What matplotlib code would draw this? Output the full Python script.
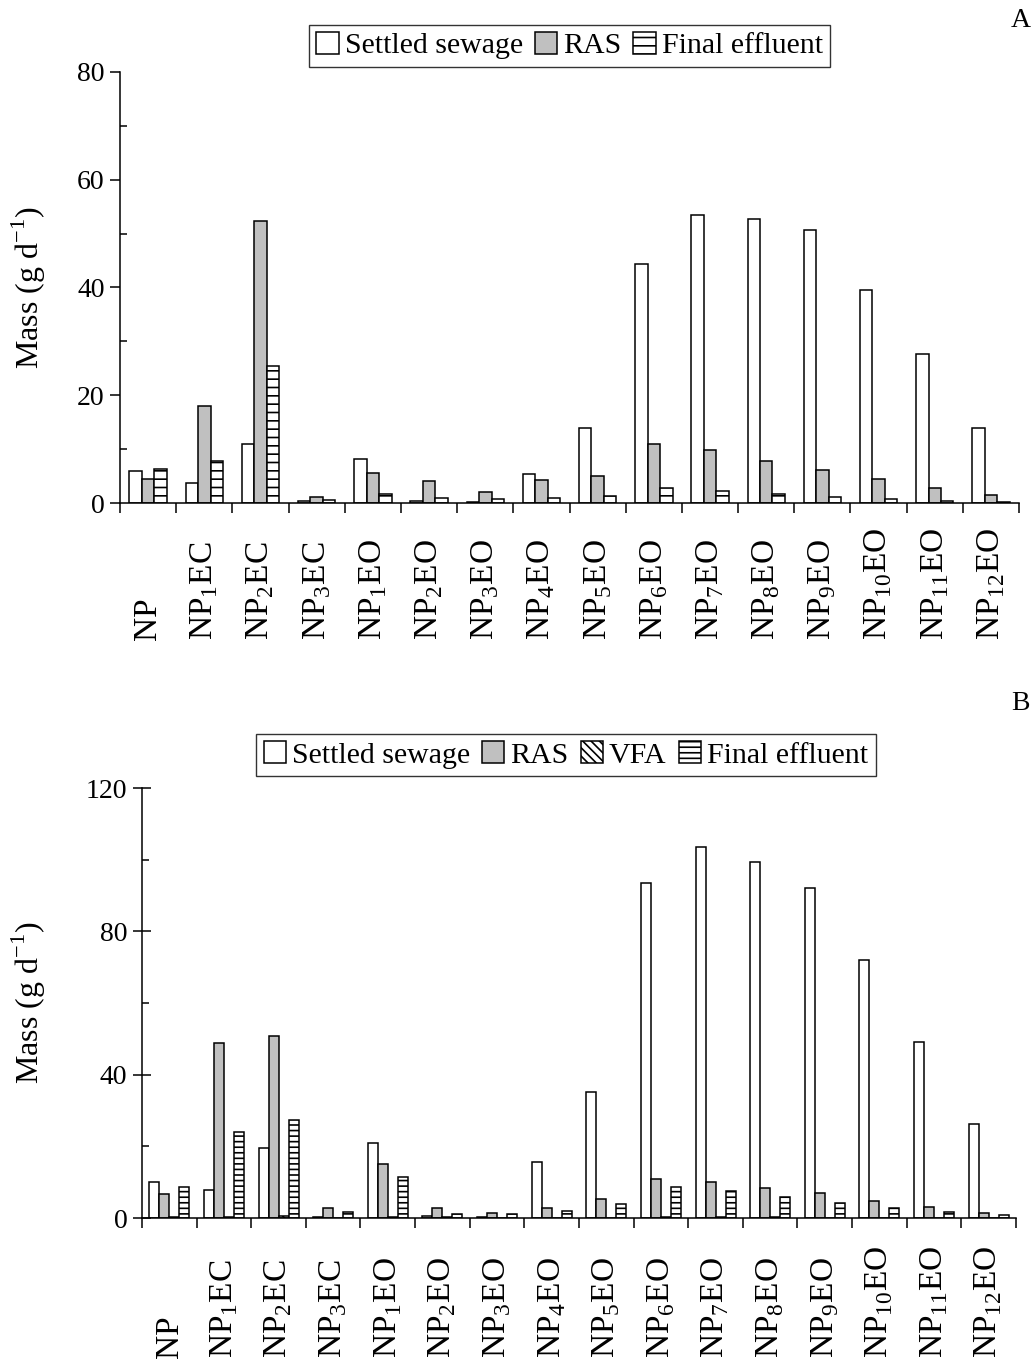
import matplotlib
matplotlib.use('Agg')
import matplotlib.pyplot as plt
import numpy as np

plt.rcParams['font.family'] = ['Liberation Serif', 'DejaVu Serif']
plt.rcParams['mathtext.fontset'] = 'custom'
plt.rcParams['mathtext.rm'] = 'Liberation Serif'
plt.rcParams['font.size'] = 20
plt.rcParams['hatch.linewidth'] = 1.2

labels = ['NP', 'NP$_\\mathregular{1}$EC', 'NP$_\\mathregular{2}$EC', 'NP$_\\mathregular{3}$EC',
          'NP$_\\mathregular{1}$EO', 'NP$_\\mathregular{2}$EO', 'NP$_\\mathregular{3}$EO',
          'NP$_\\mathregular{4}$EO', 'NP$_\\mathregular{5}$EO', 'NP$_\\mathregular{6}$EO',
          'NP$_\\mathregular{7}$EO', 'NP$_\\mathregular{8}$EO', 'NP$_\\mathregular{9}$EO',
          'NP$_\\mathregular{10}$EO', 'NP$_\\mathregular{11}$EO', 'NP$_\\mathregular{12}$EO']

# panel A
a_settled = [5.9, 3.8, 10.9, 0.4, 8.1, 0.4, 0.2, 5.3, 14.0, 44.4, 53.5, 52.8, 50.6, 39.6, 27.6, 14.0]
a_ras = [4.5, 18.0, 52.3, 1.1, 5.6, 4.0, 2.1, 4.3, 5.0, 10.9, 9.8, 7.8, 6.1, 4.4, 2.7, 1.4]
a_final = [6.4, 7.8, 25.4, 0.6, 1.6, 0.9, 0.75, 0.9, 1.3, 2.85, 2.3, 1.6, 1.1, 0.8, 0.45, 0.25]

# panel B
b_settled = [10.1, 7.8, 19.6, 0.3, 20.9, 0.6, 0.4, 15.6, 35.2, 93.6, 103.6, 99.4, 92.2, 72.1, 49.2, 26.3]
b_ras = [6.7, 48.9, 50.8, 2.8, 15.0, 2.8, 1.5, 2.7, 5.3, 10.9, 10.0, 8.4, 6.9, 4.7, 3.0, 1.4]
b_vfa = [0.3, 0.3, 0.5, 0.0, 0.3, 0.4, 0.0, 0.0, 0.0, 0.3, 0.3, 0.3, 0.0, 0.0, 0.0, 0.0]
b_final = [8.6, 24.1, 27.4, 1.6, 11.5, 1.2, 1.1, 2.1, 4.0, 8.7, 7.6, 5.9, 4.2, 2.7, 1.6, 0.8]

gray = '#c0c0c0'
x = np.arange(len(labels))

fig = plt.figure(figsize=(10.35, 13.68), dpi=100)
axA = fig.add_axes([0.116, 0.6323, 0.8686, 0.3151])
axB = fig.add_axes([0.1372, 0.1096, 0.8444, 0.3143])


def style_axes(ax, ymax, major, minor, tickdir, label_drop):
    ax.set_xlim(-0.5, len(labels) - 0.5)
    ax.set_ylim(0, ymax)
    ax.spines['top'].set_visible(False)
    ax.spines['right'].set_visible(False)
    ax.spines['left'].set_linewidth(1.1)
    ax.spines['bottom'].set_linewidth(1.1)
    ax.set_yticks(np.arange(0, ymax + 1, major))
    ax.set_yticks(np.arange(minor, ymax, major), minor=True)
    ax.tick_params(axis='y', which='major', direction=tickdir,
                   length=13 if tickdir == 'inout' else 7, width=1.1, pad=4)
    ax.tick_params(axis='y', which='minor', direction='in', length=5, width=1.1)
    ax.set_xticks(np.arange(-0.5, len(labels), 1.0))
    ax.set_xticklabels([])
    ax.tick_params(axis='x', which='major', direction='out', length=7, width=1.1)
    for i, lab in enumerate(labels):
        ax.text(x[i], -label_drop, lab, rotation=90, ha='center', va='bottom',
                fontsize=24, transform=ax.get_xaxis_transform())
    ax.set_ylabel('Mass (g d$^\\mathregular{-1}$)', fontsize=23)


# A
w = 0.222
axA.bar(x - w, a_settled, w, color='white', edgecolor='black', linewidth=1.1, label='Settled sewage')
axA.bar(x, a_ras, w, color=gray, edgecolor='black', linewidth=1.1, label='RAS')
axA.bar(x + w, a_final, w, color='white', edgecolor='black', linewidth=1.1, hatch='--',
        label='Final effluent')
style_axes(axA, 80, 20, 10, 'out', 0.318)
axA.yaxis.set_label_coords(-0.080, 0.5)
axA.legend(loc='lower center', bbox_to_anchor=(0.5, 1.012), ncol=3, frameon=True,
           fancybox=False, edgecolor='black', fontsize=21.5, handlelength=0.75,
           handleheight=0.75, handletextpad=0.2, columnspacing=0.4, borderpad=0.25,
           borderaxespad=0).get_frame().set_linewidth(1.0)

# B
w = 0.183
axB.bar(x - 1.5 * w, b_settled, w, color='white', edgecolor='black', linewidth=1.1, label='Settled sewage')
axB.bar(x - 0.5 * w, b_ras, w, color=gray, edgecolor='black', linewidth=1.1, label='RAS')
axB.bar(x + 0.5 * w, b_vfa, w, color='white', edgecolor='black', linewidth=1.1, hatch='\\\\\\\\',
        label='VFA')
axB.bar(x + 1.5 * w, b_final, w, color='white', edgecolor='black', linewidth=1.1, hatch='---',
        label='Final effluent')
style_axes(axB, 120, 40, 20, 'inout', 0.326)
axB.yaxis.set_label_coords(-0.1075, 0.5)
axB.legend(loc='lower center', bbox_to_anchor=(0.485, 1.028), ncol=4, frameon=True,
           fancybox=False, edgecolor='black', fontsize=21.5, handlelength=0.75,
           handleheight=0.75, handletextpad=0.2, columnspacing=0.4, borderpad=0.25,
           borderaxespad=0).get_frame().set_linewidth(1.0)

fig.text(0.986, 0.985, 'A', fontsize=20, ha='center', va='center')
fig.text(0.986, 0.486, 'B', fontsize=20, ha='center', va='center')

fig.savefig('out.png', dpi=100)
